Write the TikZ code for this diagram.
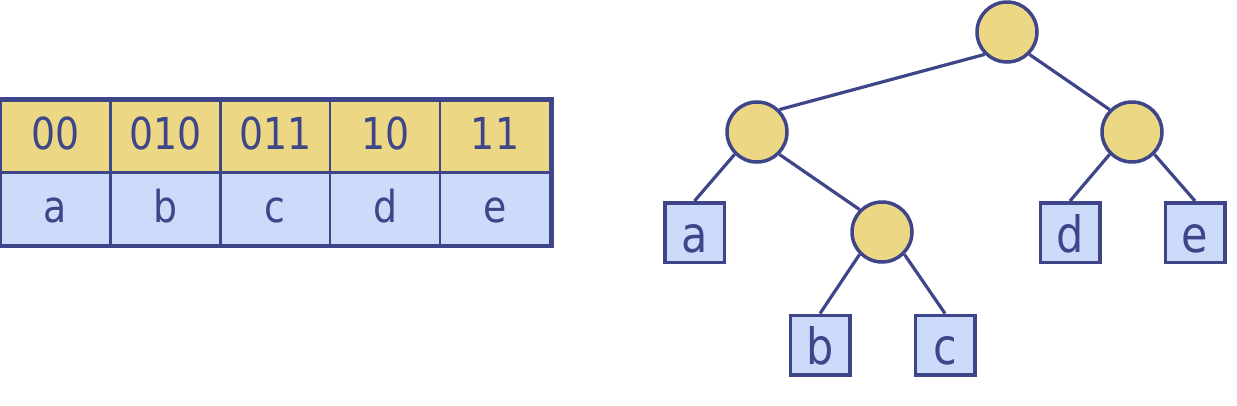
\documentclass[tikz,border=0pt]{standalone}
\usepackage{fontspec}
\setmainfont{DejaVu Sans}[FakeStretch=0.86]
\definecolor{ink}{HTML}{3F4589}
\definecolor{gold}{HTML}{EBD784}
\definecolor{pale}{HTML}{CDDBFA}
\begin{document}
\begin{tikzpicture}[x=1pt,y=-1pt,
  cell/.style={draw=ink,line width=2.5pt,minimum width=109.9pt,minimum height=72.2pt,inner sep=0pt,text=ink,font=\fontsize{44}{50}\selectfont},
  codecell/.style={cell,fill=gold,text height=24.8pt,text depth=0pt},
  symcell/.style={cell,fill=pale,text height=28pt,text depth=0pt},
  inner/.style={circle,draw=ink,line width=3.5pt,fill=gold,minimum size=60pt,inner sep=0pt},
  leaf/.style={rectangle,draw=ink,line width=3.5pt,fill=pale,minimum size=59.5pt,inner sep=0pt,text=ink,text height=39pt,text depth=0pt,font=\fontsize{50}{56}\selectfont},
  edge/.style={draw=ink,line width=3.2pt}]
\useasboundingbox (0,0) rectangle (1237,405);
% table
\foreach \t [count=\i from 0] in {00,010,011,10,11} {
  \node[codecell] (c\i) at (0.5+54.95+109.9*\i,136.6) {\t};
}
\foreach \t [count=\i from 0] in {a,b,c,d,e} {
  \node[symcell] (s\i) at (0.5+54.95+109.9*\i,208.8) {\t};
}
\draw[ink,line width=4.5pt] (c0.north west) rectangle (s4.south east);
% tree
\node[inner] (root) at (1007,32) {};
\node[inner] (L) at (757,132) {};
\node[inner] (R) at (1132,132) {};
\node[inner] (M) at (882,232) {};
\node[leaf] (a) at (694.5,232.5) {a};
\node[leaf] (d) at (1070,232.5) {d};
\node[leaf] (e) at (1195,232.5) {e};
\node[leaf] (b) at (820,345) {b};
\node[leaf] (c) at (945,345) {c};
\path[edge] (root.south west) -- (L.north east);
\path[edge] (root.south east) -- (R.north west);
\path[edge] (L.south west) -- (a.north);
\path[edge] (L.south east) -- (M.north west);
\path[edge] (M.south west) -- (b.north);
\path[edge] (M.south east) -- (c.north);
\path[edge] (R.south west) -- (d.north);
\path[edge] (R.south east) -- (e.north);
\end{tikzpicture}
\end{document}
